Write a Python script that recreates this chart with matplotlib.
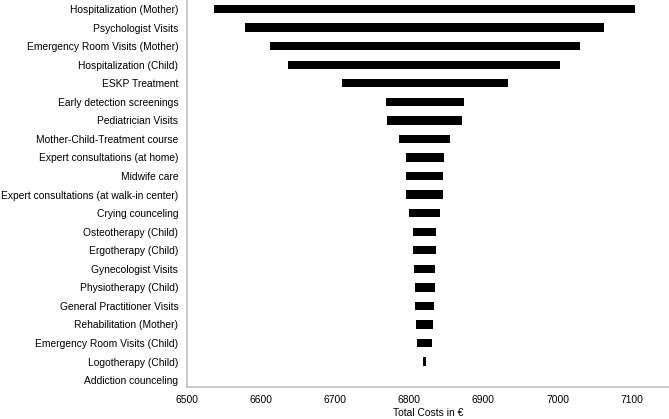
import matplotlib.pyplot as plt

plt.rcParams['font.family'] = ['Liberation Sans', 'DejaVu Sans']

categories = [
    'Hospitalization (Mother)', 'Psychologist Visits', 'Emergency Room Visits (Mother)',
    'Hospitalization (Child)', 'ESKP Treatment', 'Early detection screenings',
    'Pediatrician Visits', 'Mother-Child-Treatment course', 'Expert consultations (at home)',
    'Midwife care', 'Expert consultations (at walk-in center)', 'Crying counceling',
    'Osteotherapy (Child)', 'Ergotherapy (Child)', 'Gynecologist Visits',
    'Physiotherapy (Child)', 'General Practitioner Visits', 'Rehabilitation (Mother)',
    'Emergency Room Visits (Child)', 'Logotherapy (Child)', 'Addiction counceling',
]
low = [6537, 6578, 6612, 6637, 6709, 6768, 6770, 6786, 6795, 6796, 6796, 6799,
       6805, 6805, 6806, 6808, 6808, 6809, 6811, 6819, 6820]
high = [7104, 7063, 7030, 7003, 6933, 6874, 6871, 6855, 6847, 6846, 6846, 6842,
        6836, 6836, 6835, 6834, 6833, 6832, 6831, 6823, 6820]

fig = plt.figure(figsize=(6.69, 4.19), dpi=100)
ax = fig.add_axes([0.279, 0.076, 0.721, 0.924])

ypos = list(range(len(categories)))
widths = [h - l for l, h in zip(low, high)]
ax.barh(ypos, widths, left=low, height=0.45, color='black')

ax.set_yticks(ypos)
ax.set_yticklabels(categories, fontsize=7.4)
ax.set_ylim(20.38, -0.49)
ax.set_xlim(6500, 7150)
ax.set_xticks([6500, 6600, 6700, 6800, 6900, 7000, 7100])
ax.tick_params(axis='x', labelsize=7.4, length=0, pad=6)
ax.tick_params(axis='y', length=0, pad=6)
ax.set_xlabel('Total Costs in €', fontsize=7.4, labelpad=2)

for s in ['top', 'right']:
    ax.spines[s].set_visible(False)
for s in ['left', 'bottom']:
    ax.spines[s].set_color('#bfbfbf')
    ax.spines[s].set_linewidth(1.2)

fig.savefig('out.png', dpi=100)
